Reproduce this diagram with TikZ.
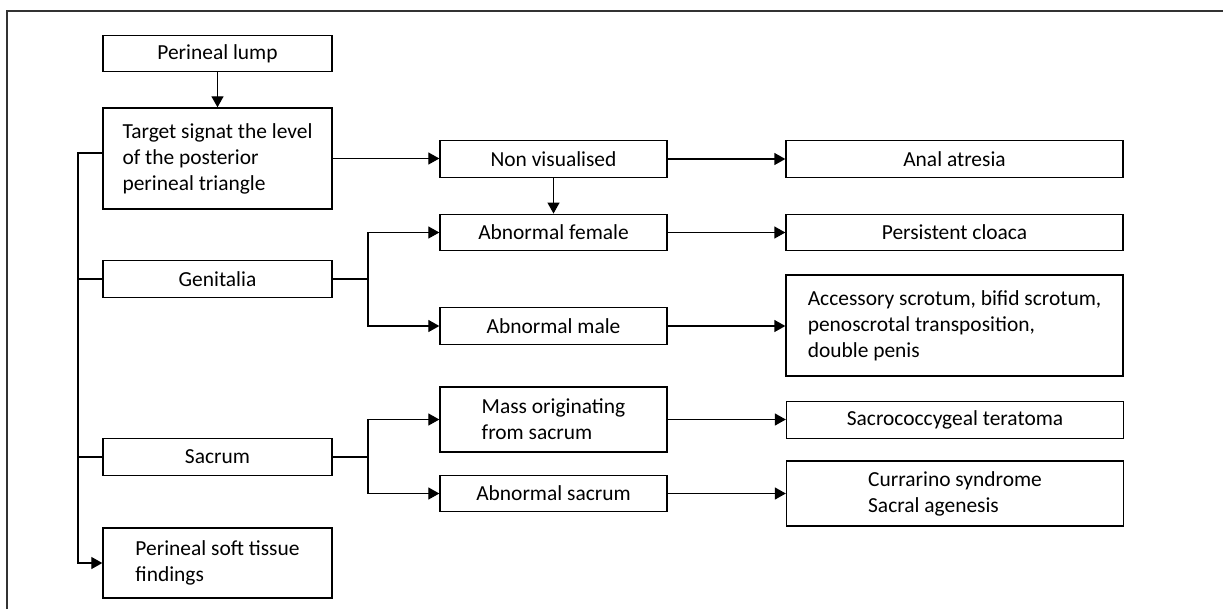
\documentclass[tikz,border=0pt]{standalone}
\usepackage{fontspec}
\setmainfont{Carlito}
\usetikzlibrary{positioning,arrows.meta}

\begin{document}
\begin{tikzpicture}[x=0.02cm, y=-0.02cm,
    main/.style = {draw, line width=0.8pt, inner sep=0pt, align=left, font=\fontsize{12.2}{14.8}\selectfont},
    leftbox/.style = {main, minimum width=4.58cm, minimum height=0.73cm},
    rightbox/.style = {main, minimum width=6.74cm, minimum height=0.73cm},
    link/.style = {line width=0.75pt},
    arr/.style = {link, -{Triangle[length=0.22cm,width=0.24cm]}}]
    \useasboundingbox (0,0) rectangle (1223,609);
    \draw[line width=1pt, black!80] (7,609) -- (7,11) -- (1223,11);
    % first column
    \node[leftbox] (lump) at (217.5,53.5) {Perineal lump};
    \node[leftbox, minimum height=2.02cm] (target) at (217.5,158.5) {Target signat the level\\of the posterior\\perineal triangle};
    \node[leftbox] (genitalia) at (217.5,279) {Genitalia};
    \node[leftbox] (sacrum) at (217.5,457) {Sacrum};
    \node[leftbox, minimum height=1.4cm] (soft) at (217.5,563) {Perineal soft tissue\\findings};
    % second column
    \node[leftbox, minimum width=4.54cm] (nonvis) at (553.5,159) {Non visualised};
    \node[leftbox, minimum width=4.54cm] (abfemale) at (553.5,232.5) {Abnormal female};
    \node[leftbox, minimum width=4.54cm] (abmale) at (553.5,326) {Abnormal male};
    \node[leftbox, minimum width=4.54cm, minimum height=1.3cm] (mass) at (553.5,419.5) {Mass originating\\from sacrum};
    \node[leftbox, minimum width=4.54cm] (absacrum) at (553.5,493.5) {Abnormal sacrum};
    % third column
    \node[rightbox] (anal) at (954.5,159) {Anal atresia};
    \node[rightbox] (cloaca) at (954.5,232.5) {Persistent cloaca};
    \node[rightbox, minimum height=2.02cm] (accessory) at (954.5,325.5) {Accessory scrotum, bifid scrotum,\\penoscrotal transposition,\\double penis};
    \node[rightbox] (sacro) at (955,420) {Sacrococcygeal teratoma};
    \node[rightbox, minimum height=1.3cm] (currarino) at (955,493.5) {Currarino syndrome\\Sacral agenesis};

    \coordinate (trunk) at (78,563);
    \coordinate (gbranch) at (368,279);
    \coordinate (sbranch) at (368,457);

    \draw[arr] (lump) -- (target);
    \draw[arr] (target.east) -- (target.east -| nonvis.west);
    \draw[arr] (nonvis) -- (abfemale);
    \foreach \a/\b in {nonvis/anal, abfemale/cloaca, abmale/accessory, mass/sacro, absacrum/currarino}
        \draw[arr] (\a.east) -- (\a.east -| \b.west);
    % left trunk
    \draw[arr] ([yshift=0.11cm]target.west) -| (trunk) -- (soft.west);
    \draw[link] (genitalia.west) -- (genitalia.west -| trunk);
    \draw[link] (sacrum.west) -- (sacrum.west -| trunk);
    % branches
    \draw[link] (genitalia.east) -- (gbranch);
    \draw[arr] (gbranch) |- (abfemale.west);
    \draw[arr] (gbranch) |- (abmale.west);
    \draw[link] (sacrum.east) -- (sbranch);
    \draw[arr] (sbranch) |- (mass.west);
    \draw[arr] (sbranch) |- (absacrum.west);
\end{tikzpicture}
\end{document}
